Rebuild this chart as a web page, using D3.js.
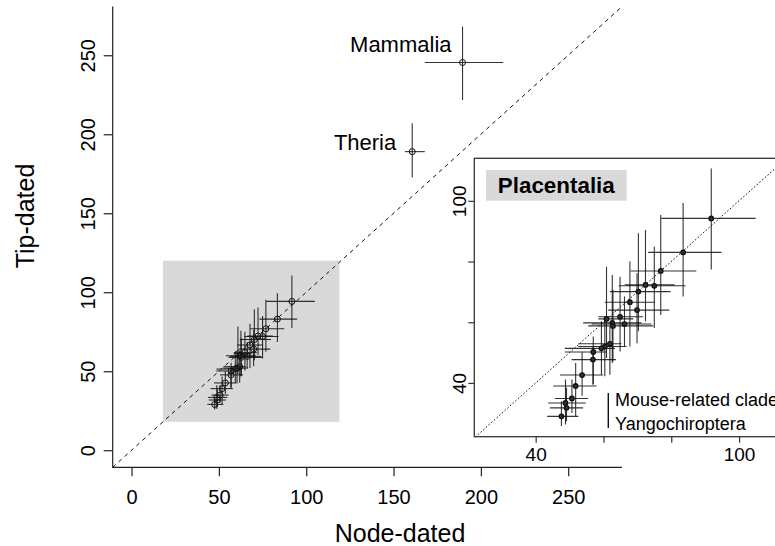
<!DOCTYPE html>
<html>
<head>
<meta charset="utf-8">
<script src="https://cdn.jsdelivr.net/npm/d3@7"></script>
<style>
  html, body { margin: 0; padding: 0; background: #fff; }
  svg { display: block; font-family: "Liberation Sans", Arial, Helvetica, sans-serif; }
</style>
</head>
<body>
<svg id="chart" width="775" height="546"></svg>
<script>
// ---------------- data ----------------
const cladeNames = ["Mammalia", "Theria", "", "", "", "", "", "", "", "", "", "", "", "", "", "", "", "", "", "", "", "", "", "", "", ""];
const nodeDated   = [189.5, 160.7, 91.8, 83.5, 76.9, 72.4, 75.0, 70.3, 67.8, 69.9, 64.9, 60.9, 62.6, 62.8, 66.2, 61.9, 60.4, 59.4, 57.0, 56.9, 53.7, 51.8, 50.7, 48.8, 49.1, 47.6];
const nodeDatedLo = [167.9, 156.5, 77.1, 73.2, 68.0, 66.3, 64.5, 61.9, 60.4, 61.4, 58.5, 58.5, 54.0, 55.5, 56.5, 52.6, 52.6, 48.6, 48.6, 50.6, 47.2, 45.2, 45.7, 43.7, 44.2, 43.4];
const nodeDatedHi = [212.8, 167.9, 104.9, 94.8, 87.4, 81.0, 84.2, 79.8, 75.2, 79.4, 71.7, 68.8, 71.2, 74.7, 74.2, 65.3, 66.8, 63.4, 60.9, 63.7, 59.9, 58.0, 55.5, 54.8, 54.0, 52.6];
const tipDated    = [245.4, 189.0, 94.2, 83.0, 76.9, 72.3, 72.0, 70.1, 66.6, 64.0, 61.8, 61.1, 59.8, 58.8, 59.4, 52.9, 52.0, 51.4, 50.2, 47.7, 42.6, 39.0, 34.9, 33.4, 31.8, 29.0];
const tipDatedLo  = [221.7, 172.6, 77.4, 68.5, 62.4, 60.3, 58.1, 57.0, 52.0, 53.1, 50.4, 48.2, 46.6, 47.1, 52.0, 42.7, 42.2, 42.7, 39.5, 39.5, 35.8, 29.0, 30.1, 26.3, 27.4, 25.8];
const tipDatedHi  = [268.2, 206.9, 110.6, 99.3, 95.3, 90.4, 84.9, 89.3, 80.0, 76.1, 75.0, 78.3, 75.6, 70.7, 68.5, 58.6, 61.9, 60.3, 55.3, 52.0, 50.1, 46.6, 41.1, 41.1, 38.4, 34.0];

const mainTicks = [0, 50, 100, 150, 200, 250];
const insetTicks = [40, 60, 80, 100];
const insetTickLabels = [40, 100];
const zoomRegionX = [18, 119];
const zoomRegionY = [18, 120];
const insetTitle = "Placentalia";
const legendLines = ["Mouse-related clade", "Yangochiroptera"];
const xTitle = "Node-dated";
const yTitle = "Tip-dated";

const pts = nodeDated.map((d, i) => ({
  name: cladeNames[i], x: d, xlo: nodeDatedLo[i], xhi: nodeDatedHi[i],
  y: tipDated[i], ylo: tipDatedLo[i], yhi: tipDatedHi[i]
}));
const placental = pts.filter(p => p.name === "");

// ---------------- layout ----------------
const svg = d3.select("#chart");
const M = { left: 112.7, right: 622, top: 6.6, bottom: 467.3 };
const x = d3.scaleLinear().domain([-10.8, 280.8]).range([M.left, M.right]);
const y = d3.scaleLinear().domain([-10.8, 280.8]).range([M.bottom, M.top]);

const ink = "#111";

// gray zoom region
svg.append("rect")
  .attr("x", x(zoomRegionX[0])).attr("y", y(zoomRegionY[1]))
  .attr("width", x(zoomRegionX[1]) - x(zoomRegionX[0]))
  .attr("height", y(zoomRegionY[0]) - y(zoomRegionY[1]))
  .attr("fill", "#d9d9d9");

// diagonal
svg.append("line")
  .attr("x1", x(-10.8)).attr("y1", y(-10.8)).attr("x2", x(280.8)).attr("y2", y(280.8))
  .attr("stroke", ink).attr("stroke-width", 1).attr("stroke-dasharray", "4,4");

// error bars + points in main panel
function drawPoints(g, xs, ys, data, r, sw, filled) {
  g.selectAll(null).data(data).enter().append("line")
    .attr("x1", d => xs(d.xlo)).attr("x2", d => xs(d.xhi))
    .attr("y1", d => ys(d.y)).attr("y2", d => ys(d.y))
    .attr("stroke", ink).attr("stroke-width", 1.1).attr("stroke-opacity", 0.85);
  g.selectAll(null).data(data).enter().append("line")
    .attr("x1", d => xs(d.x)).attr("x2", d => xs(d.x))
    .attr("y1", d => ys(d.ylo)).attr("y2", d => ys(d.yhi))
    .attr("stroke", ink).attr("stroke-width", 1.1).attr("stroke-opacity", 0.85);
  g.selectAll(null).data(data).enter().append("circle")
    .attr("cx", d => xs(d.x)).attr("cy", d => ys(d.y)).attr("r", r)
    .attr("fill", filled ? "#333" : "none").attr("stroke", ink).attr("stroke-width", sw);
}
const mainG = svg.append("g");
drawPoints(mainG, x, y, pts, 3, 1, false);

// labels for named clades
const labelOffsets = { "Mammalia": [-11, -18], "Theria": [-16, -9] };
pts.filter(p => p.name !== "").forEach(p => {
  const o = labelOffsets[p.name];
  svg.append("text").attr("x", x(p.x) + o[0]).attr("y", y(p.y) + o[1])
    .attr("text-anchor", "end").attr("dominant-baseline", "central")
    .attr("font-size", 22).attr("fill", "#000").text(p.name);
});

// main axes
svg.append("path")
  .attr("d", `M${M.left},${M.top}V${M.bottom}H${M.right}`)
  .attr("fill", "none").attr("stroke", "#222").attr("stroke-width", 1.2);

const xAx = svg.append("g").attr("transform", `translate(0,${M.bottom})`)
  .call(d3.axisBottom(x).tickValues(mainTicks).tickSize(9).tickPadding(14).tickSizeOuter(0));
xAx.select(".domain").remove();
xAx.selectAll("line").attr("stroke", "#222").attr("stroke-width", 1.2);
xAx.selectAll("text").attr("font-size", 20).attr("fill", "#000")
  .attr("font-family", "Liberation Sans, Arial, sans-serif");

const yAx = svg.append("g").attr("transform", `translate(${M.left},0)`)
  .call(d3.axisLeft(y).tickValues(mainTicks).tickSize(9).tickSizeOuter(0));
yAx.select(".domain").remove();
yAx.selectAll("line").attr("stroke", "#222").attr("stroke-width", 1.2);
yAx.selectAll("text")
  .attr("font-size", 20).attr("fill", "#000")
  .attr("font-family", "Liberation Sans, Arial, sans-serif")
  .attr("x", null).attr("dy", null)
  .attr("text-anchor", "middle").attr("dominant-baseline", "central")
  .attr("transform", "translate(-24.5,0) rotate(-90)");

// axis titles
svg.append("text").attr("x", 400).attr("y", 533).attr("text-anchor", "middle")
  .attr("dominant-baseline", "central").attr("font-size", 25).text(xTitle);
svg.append("text").attr("transform", "translate(25,216) rotate(-90)")
  .attr("text-anchor", "middle").attr("dominant-baseline", "central")
  .attr("font-size", 25).text(yTitle);

// ---------------- inset ----------------
const I = { left: 474.3, right: 785.5, top: 158.3, bottom: 436.7 };
const xi = d3.scaleLinear().domain([21.9, 113.7]).range([I.left, I.right]);
const yi = d3.scaleLinear().domain([22.3, 114]).range([I.bottom, I.top]);

svg.append("rect").attr("x", I.left).attr("y", I.top)
  .attr("width", I.right - I.left).attr("height", I.bottom - I.top)
  .attr("fill", "#fff");

svg.append("defs").append("clipPath").attr("id", "insetClip")
  .append("rect").attr("x", I.left).attr("y", I.top)
  .attr("width", I.right - I.left).attr("height", I.bottom - I.top);

const ig = svg.append("g").attr("clip-path", "url(#insetClip)");

// title box
ig.append("rect").attr("x", 486).attr("y", 170).attr("width", 140.7).attr("height", 30.7)
  .attr("fill", "#d9d9d9");
ig.append("text").attr("x", 556.3).attr("y", 185.8).attr("text-anchor", "middle")
  .attr("dominant-baseline", "central").attr("font-size", 22.4).attr("font-weight", "bold")
  .text(insetTitle);

// diagonal
ig.append("line")
  .attr("x1", xi(0)).attr("y1", yi(0)).attr("x2", xi(130)).attr("y2", yi(130))
  .attr("stroke", ink).attr("stroke-width", 1).attr("stroke-dasharray", "1.6,2");

drawPoints(ig, xi, yi, placental, 2.2, 1.4, true);

// legend
ig.append("line").attr("x1", 608.3).attr("x2", 608.3).attr("y1", 393).attr("y2", 428)
  .attr("stroke", ink).attr("stroke-width", 1.4);
legendLines.forEach((t, i) => {
  ig.append("text").attr("x", 615).attr("y", 400 + i * 24)
    .attr("dominant-baseline", "central").attr("font-size", 18).text(t);
});

// inset frame
svg.append("rect").attr("x", I.left).attr("y", I.top)
  .attr("width", I.right - I.left).attr("height", I.bottom - I.top)
  .attr("fill", "none").attr("stroke", "#333").attr("stroke-width", 1.3);

// inset ticks
const ixAx = svg.append("g").attr("transform", `translate(0,${I.bottom})`)
  .call(d3.axisBottom(xi).tickValues(insetTicks).tickSize(6).tickSizeOuter(0)
    .tickFormat(d => insetTickLabels.includes(d) ? d : ""));
ixAx.select(".domain").remove();
ixAx.selectAll("line").attr("stroke", "#333").attr("stroke-width", 1.2);
ixAx.selectAll("text").attr("font-size", 19).attr("fill", "#000")
  .attr("font-family", "Liberation Sans, Arial, sans-serif")
  .attr("y", 18).attr("dy", null).attr("dominant-baseline", "central");

const iyAx = svg.append("g").attr("transform", `translate(${I.left},0)`)
  .call(d3.axisLeft(yi).tickValues(insetTicks).tickSize(6).tickSizeOuter(0)
    .tickFormat(d => insetTickLabels.includes(d) ? d : ""));
iyAx.select(".domain").remove();
iyAx.selectAll("line").attr("stroke", "#333").attr("stroke-width", 1.2);
iyAx.selectAll("text").attr("font-size", 19).attr("fill", "#000")
  .attr("font-family", "Liberation Sans, Arial, sans-serif")
  .attr("x", null).attr("dy", null)
  .attr("text-anchor", "middle").attr("dominant-baseline", "central")
  .attr("transform", "translate(-15,0) rotate(-90)");
</script>
</body>
</html>
